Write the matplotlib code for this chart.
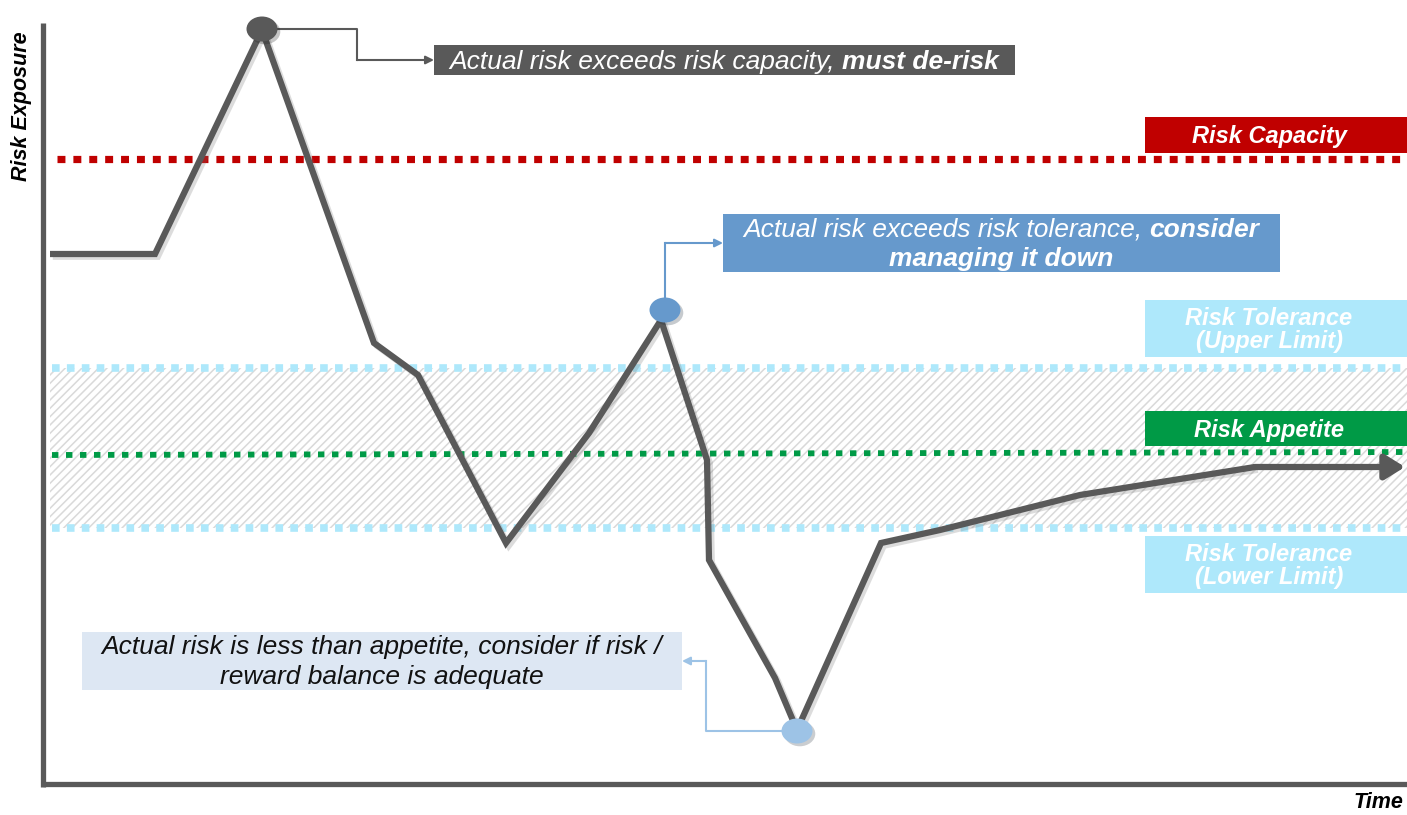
import matplotlib
matplotlib.use("Agg")
import matplotlib.pyplot as plt
from matplotlib.patches import Rectangle, Ellipse
import matplotlib.patheffects as pe

plt.rcParams["font.family"] = ["Liberation Sans", "DejaVu Sans"]
plt.rcParams["hatch.linewidth"] = 1.1

# ---- data ----
time_pts = [50, 155, 262, 374, 418, 506, 589, 661, 707, 709, 775, 797, 881, 940, 1080, 1255]
exposure = [561, 561, 785, 472, 440, 272, 382, 495, 355, 255, 137, 85, 272, 285, 320, 348]
arrow_end = 1405

capacity_level = 656
tolerance_upper = 447
tolerance_lower = 287
appetite_x = [52, 1407]
appetite_y = [360, 363]

event_x = [262, 665, 797]
event_y = [786, 505, 84]
event_colors = ["#595959", "#6699CC", "#9DC3E6"]

LINE = "#595959"
RED = "#C00000"
TOL = "#AEE8FB"
GREEN = "#009A46"
BLUE = "#6699CC"
LIGHT = "#9DC3E6"
PALE = "#DDE7F3"

fig = plt.figure(figsize=(14.07, 8.15), dpi=100)
ax = fig.add_axes([0, 0, 1, 1])
ax.set_xlim(0, 1407)
ax.set_ylim(0, 815)
ax.set_axis_off()

# tolerance band (hatched)
ax.fill_between([50, 1407], tolerance_lower, tolerance_upper, facecolor="white",
                edgecolor="#D9D9D9", hatch="////", linewidth=0, zorder=1)

# level lines
ax.plot([57, 1407], [capacity_level] * 2, color=RED, lw=5.2, ls=(0, (1.1, 1.1)),
        dash_capstyle="butt", zorder=2)
for lvl in (tolerance_upper, tolerance_lower):
    ax.plot([52, 1407], [lvl] * 2, color=TOL, lw=5.5, ls=(0, (1.0, 0.95)),
            dash_capstyle="butt", zorder=2)
ax.plot(appetite_x, appetite_y, color=GREEN, lw=4.2, ls=(0, (1.1, 1.3)),
        dash_capstyle="butt", zorder=2)

# axes lines
ax.plot([43, 43], [28, 792], color=LINE, lw=3.8, solid_capstyle="butt", zorder=3)
ax.plot([43, 1407], [31, 31], color=LINE, lw=3.8, solid_capstyle="butt", zorder=3)

shadow = [pe.SimpleLineShadow(offset=(2, -2), alpha=0.25, shadow_color="#777777"), pe.Normal()]

# exposure path
ax.plot(time_pts, exposure, color=LINE, lw=4.5, solid_joinstyle="miter",
        solid_capstyle="butt", zorder=4, path_effects=shadow)
ax.annotate("", xy=(arrow_end, exposure[-1]), xytext=(time_pts[-1], exposure[-1]),
            arrowprops=dict(arrowstyle="-|>,head_length=1.2,head_width=0.75", color=LINE,
                            lw=4.5, shrinkA=0, shrinkB=0), zorder=4)

# event markers
for x, y, c in zip(event_x, event_y, event_colors):
    ax.add_patch(Ellipse((x, y), 31, 25, facecolor=c, edgecolor="none", zorder=5,
                         path_effects=[pe.SimplePatchShadow(offset=(2, -2), alpha=0.25), pe.Normal()]))

# right-hand labels
label_boxes = [
    ("Risk Capacity", 662, 36, RED),
    ("Risk Tolerance\n(Upper Limit)", 458, 57, TOL),
    ("Risk Appetite", 369, 35, GREEN),
    ("Risk Tolerance\n(Lower Limit)", 222, 57, TOL),
]
for txt, y0, h, c in label_boxes:
    ax.add_patch(Rectangle((1145, y0), 262, h, facecolor=c, edgecolor="none", zorder=6))
    ax.text(1269, y0 + h / 2 - 1.5, txt, ha="center", va="center", color="white", fontsize=17,
            fontweight="bold", fontstyle="italic", linespacing=1.05, zorder=7)

renderer = fig.canvas.get_renderer()


def rich_line(xc, y, parts, color, size):
    texts = [ax.text(0, y, s, color=color, fontsize=size, fontstyle="italic",
                     fontweight=w, va="center", ha="left", zorder=8) for s, w in parts]
    widths = [t.get_window_extent(renderer).width for t in texts]
    x = xc - sum(widths) / 2
    for t, w in zip(texts, widths):
        t.set_x(x)
        x += w


# callout: capacity breach
ax.add_patch(Rectangle((434, 740), 581, 30, facecolor="#595959", edgecolor="none", zorder=6))
rich_line(724, 753, [("Actual risk exceeds risk capacity, ", "normal"), ("must de-risk", "bold")],
          "white", 19)
ax.plot([277, 357, 357], [786, 786, 755], color=LINE, lw=1.5, zorder=3)
ax.annotate("", xy=(434, 755), xytext=(357, 755),
            arrowprops=dict(arrowstyle="-|>", color=LINE, lw=1.5, shrinkA=0, shrinkB=0, mutation_scale=12))

# callout: tolerance breach
ax.add_patch(Rectangle((723, 543), 557, 58, facecolor=BLUE, edgecolor="none", zorder=6))
rich_line(1001, 585, [("Actual risk exceeds risk tolerance, ", "normal"), ("consider", "bold")],
          "white", 19)
rich_line(1001, 556, [("managing it down", "bold")], "white", 19)
ax.plot([665, 665], [518, 572], color=BLUE, lw=1.5, zorder=3)
ax.annotate("", xy=(723, 572), xytext=(665, 572),
            arrowprops=dict(arrowstyle="-|>", color=BLUE, lw=1.5, shrinkA=0, shrinkB=0, mutation_scale=12))

# callout: below appetite
ax.add_patch(Rectangle((82, 125), 600, 58, facecolor=PALE, edgecolor="none", zorder=6))
rich_line(382, 168, [("Actual risk is less than appetite, consider if risk /", "normal")], "#111111", 19)
rich_line(382, 138, [("reward balance is adequate", "normal")], "#111111", 19)
ax.plot([782, 706, 706], [84, 84, 154], color=LIGHT, lw=1.5, zorder=3)
ax.annotate("", xy=(682, 154), xytext=(706, 154),
            arrowprops=dict(arrowstyle="-|>", color=LIGHT, lw=1.5, shrinkA=0, shrinkB=0, mutation_scale=12))

# axis titles
ax.text(22, 709, "Risk Exposure", rotation=90, ha="center", va="center", fontsize=15.5,
        fontweight="bold", fontstyle="italic", color="black")
ax.text(1403, 12, "Time", ha="right", va="center", fontsize=15.5,
        fontweight="bold", fontstyle="italic", color="black")

fig.savefig("out.png", dpi=100)
